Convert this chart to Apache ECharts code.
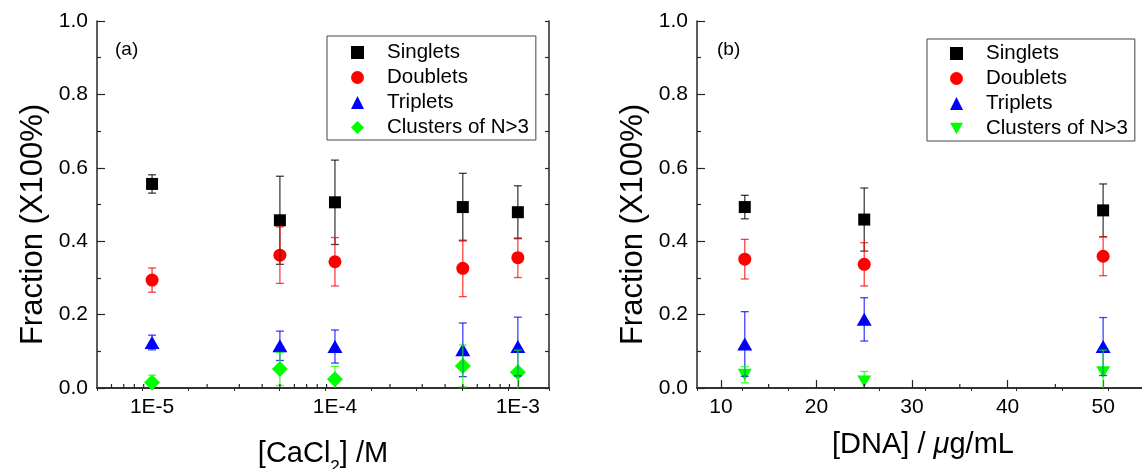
<!DOCTYPE html>
<html>
<head>
<meta charset="utf-8">
<script src="https://cdn.jsdelivr.net/npm/echarts@6/dist/echarts.min.js"></script>
<style>
html,body{margin:0;padding:0;background:#fff;}
#c{width:1142px;height:469px;}
</style>
</head>
<body>
<div id="c"></div>
<script>
// ---- Panel (a): [CaCl2] (M) ----
const aX = [1e-5, 5e-5, 1e-4, 5e-4, 1e-3];
const aSinglets = [0.556, 0.457, 0.506, 0.493, 0.479];
const aSingletsErr = [0.025, 0.12, 0.115, 0.092, 0.072];
const aDoublets = [0.294, 0.362, 0.344, 0.326, 0.355];
const aDoubletsErr = [0.033, 0.077, 0.066, 0.077, 0.054];
const aTriplets = [0.124, 0.115, 0.113, 0.104, 0.113];
const aTripletsErr = [0.02, 0.04, 0.045, 0.073, 0.08];
const aClusters = [0.015, 0.052, 0.024, 0.06, 0.043];
const aClustersErr = [0.02, 0.045, 0.035, 0.057, 0.06];
const aMinorTicks = [6e-6, 7e-6, 8e-6, 9e-6, 2e-5, 3e-5, 4e-5, 5e-5, 6e-5, 7e-5, 8e-5, 9e-5,
                     2e-4, 3e-4, 4e-4, 5e-4, 6e-4, 7e-4, 8e-4, 9e-4];

// ---- Panel (b): [DNA] (ug/mL) ----
const bX = [12.5, 25, 50];
const bSinglets = [0.493, 0.459, 0.484];
const bSingletsErr = [0.032, 0.086, 0.072];
const bDoublets = [0.351, 0.337, 0.359];
const bDoubletsErr = [0.054, 0.059, 0.053];
const bTriplets = [0.12, 0.187, 0.113];
const bTripletsErr = [0.088, 0.059, 0.079];
const bClusters = [0.036, 0.018, 0.043];
const bClustersErr = [0.022, 0.027, 0.06];
const bMinorTicks = [15, 25, 35, 45];

const seriesNames = ['Singlets', 'Doublets', 'Triplets', 'Clusters of N>3'];
const colors = ['#000000', '#ff0000', '#0000ff', '#00ff00'];

const FONT = 'Liberation Sans, Arial, Helvetica, sans-serif';
const AXC = '#262626';
const downTri = 'path://M0,0 L10,0 L5,9 Z';

function pts(xs, ys) { return xs.map((x, i) => [x, ys[i]]); }
function errPts(xs, ys, es) { return xs.map((x, i) => [x, ys[i], es[i]]); }

function errSeries(xi, yi, data, color) {
  return {
    type: 'custom', xAxisIndex: xi, yAxisIndex: yi, clip: true, z: 3, silent: true,
    encode: {x: 0, y: 1},
    data: data,
    renderItem: function (params, api) {
      const x = api.value(0), y = api.value(1), e = api.value(2);
      const t = api.coord([x, y + e]);
      const b = api.coord([x, y - e]);
      const cw = 4;
      const st = {stroke: color, lineWidth: 1.3, opacity: 0.75};
      return {type: 'group', children: [
        {type: 'line', shape: {x1: t[0], y1: t[1], x2: b[0], y2: b[1]}, style: st},
        {type: 'line', shape: {x1: t[0] - cw, y1: t[1], x2: t[0] + cw, y2: t[1]}, style: st},
        {type: 'line', shape: {x1: b[0] - cw, y1: b[1], x2: b[0] + cw, y2: b[1]}, style: st}
      ]};
    }
  };
}

function minorTickSeries(xi, yi, vals) {
  return {
    type: 'custom', xAxisIndex: xi, yAxisIndex: yi, silent: true, z: 4,
    encode: {x: 0, y: 1},
    data: vals.map(v => [v, 0]),
    renderItem: function (params, api) {
      const p = api.coord([api.value(0), 0]);
      return {type: 'line', shape: {x1: p[0], y1: p[1], x2: p[0], y2: p[1] - 4},
              style: {stroke: AXC, lineWidth: 1.2}};
    }
  };
}

function scatter(name, xi, yi, data, color, symbol, size) {
  return {
    name: name, type: 'scatter', xAxisIndex: xi, yAxisIndex: yi, z: 2,
    symbol: symbol, symbolSize: size, data: data,
    itemStyle: {color: color, opacity: 1}
  };
}

function yAxes(gi) {
  const base = {
    gridIndex: gi, type: 'value', min: 0, max: 1, interval: 0.2,
    axisLine: {show: true, lineStyle: {color: AXC, width: 1.5}},
    splitLine: {show: false}
  };
  return [
    Object.assign({}, base, {
      position: 'left',
      axisTick: {show: true, inside: true, length: 8, lineStyle: {color: AXC, width: 1.2}},
      minorTick: {show: true, splitNumber: 2, length: 4, lineStyle: {color: AXC, width: 1.2}},
      axisLabel: {show: true, margin: 9, color: '#000', fontSize: 21, fontFamily: FONT,
                  formatter: v => v.toFixed(1)},
      name: 'Fraction (X100%)', nameLocation: 'middle', nameGap: 48,
      nameTextStyle: {fontSize: 31, color: '#000', fontFamily: FONT, padding: [0, 40, 0, 0]}
    }),
    Object.assign({}, base, {
      position: 'right',
      axisTick: {show: true, inside: true, length: 4, lineStyle: {color: AXC, width: 1.2}},
      minorTick: {show: true, splitNumber: 2, length: 4, lineStyle: {color: AXC, width: 1.2}},
      axisLabel: {show: false}
    })
  ];
}

function topAxis(gi) {
  return {
    gridIndex: gi, type: 'value', position: 'top', min: 0, max: 9.9, interval: 1,
    axisLine: {show: true, lineStyle: {color: AXC, width: 1.5}},
    axisTick: {show: true, inside: true, length: 3, lineStyle: {color: AXC, width: 1}},
    axisLabel: {show: false}, splitLine: {show: false}
  };
}

function legendFor(left, top, pad, icons) {
  return {
    left: left, top: top, orient: 'vertical', selectedMode: false,
    backgroundColor: '#fff',
    borderColor: '#444', borderWidth: 1, padding: pad,
    itemWidth: 13, itemHeight: 13, itemGap: 4,
    textStyle: {fontSize: 20.5, fontFamily: FONT, color: '#000', padding: [0, 0, 0, 18]},
    data: seriesNames.map((n, i) => ({name: n, icon: icons[i]}))
  };
}

const chart = echarts.init(document.getElementById('c'), null, {renderer: 'canvas'});

const option = {
  animation: false,
  backgroundColor: '#fff',
  textStyle: {fontFamily: FONT},
  grid: [
    {left: 97, top: 21, right: 593, bottom: 81, containLabel: false, outerBoundsMode: 'none'},
    {left: 697, top: 21, right: -7, bottom: 81, containLabel: false, outerBoundsMode: 'none'}
  ],
  xAxis: [
    {
      gridIndex: 0, type: 'log', logBase: 10, min: 5e-6, max: 1.48e-3, position: 'bottom',
      axisLine: {show: true, lineStyle: {color: AXC, width: 1.5}},
      axisTick: {show: true, inside: true, length: 8, lineStyle: {color: AXC, width: 1.2}},
      splitLine: {show: false},
      axisLabel: {show: true, interval: 0, showMinLabel: false, showMaxLabel: false,
                  margin: 9, color: '#000', fontSize: 21, fontFamily: FONT,
                  formatter: function (v) {
                    const e = Math.log10(v);
                    return Math.abs(e - Math.round(e)) < 1e-6 ? '1E' + Math.round(e) : '';
                  }},
      name: '[CaCl{sub|2}] /M', nameLocation: 'middle', nameGap: 43,
      nameTextStyle: {fontSize: 29, color: '#000', fontFamily: FONT,
                      rich: {sub: {fontSize: 17, color: '#000', fontFamily: FONT, padding: [28, 0, 0, 0]}}}
    },
    topAxis(0),
    {
      gridIndex: 1, type: 'value', min: 7.5, max: 54.8, position: 'bottom',
      axisLine: {show: true, lineStyle: {color: AXC, width: 1.5}},
      axisTick: {show: true, inside: true, length: 8, lineStyle: {color: AXC, width: 1.2}},
      splitLine: {show: false},
      axisLabel: {show: true, showMinLabel: false, showMaxLabel: false,
                  margin: 9, color: '#000', fontSize: 21, fontFamily: FONT,
                  formatter: v => (Math.abs(v - Math.round(v)) < 1e-9 && Math.round(v) % 10 === 0) ? String(Math.round(v)) : ''},
      name: '[DNA] / {it|μ}g/mL', nameLocation: 'middle', nameGap: 42,
      nameTextStyle: {fontSize: 29, color: '#000', fontFamily: FONT,
                      rich: {it: {fontSize: 29, fontStyle: 'italic', color: '#000', fontFamily: FONT}}}
    },
    topAxis(1)
  ],
  yAxis: yAxes(0).concat(yAxes(1)),
  legend: [
    legendFor(327, 36, [6, 7, 2, 24], ['rect', 'circle', 'triangle', 'diamond']),
    legendFor(927, 39, [4, 7, 2, 23], ['rect', 'circle', 'triangle', downTri])
  ],
  graphic: [
    {type: 'text', left: 115, top: 40, style: {text: '(a)', font: '19px ' + FONT, fill: '#000'}},
    {type: 'text', left: 717, top: 40, style: {text: '(b)', font: '19px ' + FONT, fill: '#000'}}
  ],
  series: [
    minorTickSeries(0, 0, aMinorTicks),
    minorTickSeries(2, 2, bMinorTicks),

    scatter(seriesNames[0], 0, 0, pts(aX, aSinglets), colors[0], 'rect', 12),
    scatter(seriesNames[1], 0, 0, pts(aX, aDoublets), colors[1], 'circle', 13),
    scatter(seriesNames[2], 0, 0, pts(aX, aTriplets), colors[2], 'triangle', [15, 13]),
    scatter(seriesNames[3], 0, 0, pts(aX, aClusters), colors[3], 'diamond', [16, 16]),
    errSeries(0, 0, errPts(aX, aSinglets, aSingletsErr), colors[0]),
    errSeries(0, 0, errPts(aX, aDoublets, aDoubletsErr), colors[1]),
    errSeries(0, 0, errPts(aX, aTriplets, aTripletsErr), colors[2]),
    errSeries(0, 0, errPts(aX, aClusters, aClustersErr), colors[3]),

    scatter(seriesNames[0], 2, 2, pts(bX, bSinglets), colors[0], 'rect', 12),
    scatter(seriesNames[1], 2, 2, pts(bX, bDoublets), colors[1], 'circle', 13),
    scatter(seriesNames[2], 2, 2, pts(bX, bTriplets), colors[2], 'triangle', [15, 13]),
    scatter(seriesNames[3], 2, 2, pts(bX, bClusters), colors[3], downTri, [14, 12]),
    errSeries(2, 2, errPts(bX, bSinglets, bSingletsErr), colors[0]),
    errSeries(2, 2, errPts(bX, bDoublets, bDoubletsErr), colors[1]),
    errSeries(2, 2, errPts(bX, bTriplets, bTripletsErr), colors[2]),
    errSeries(2, 2, errPts(bX, bClusters, bClustersErr), colors[3])
  ]
};
chart.setOption(option);
</script>
</body>
</html>
